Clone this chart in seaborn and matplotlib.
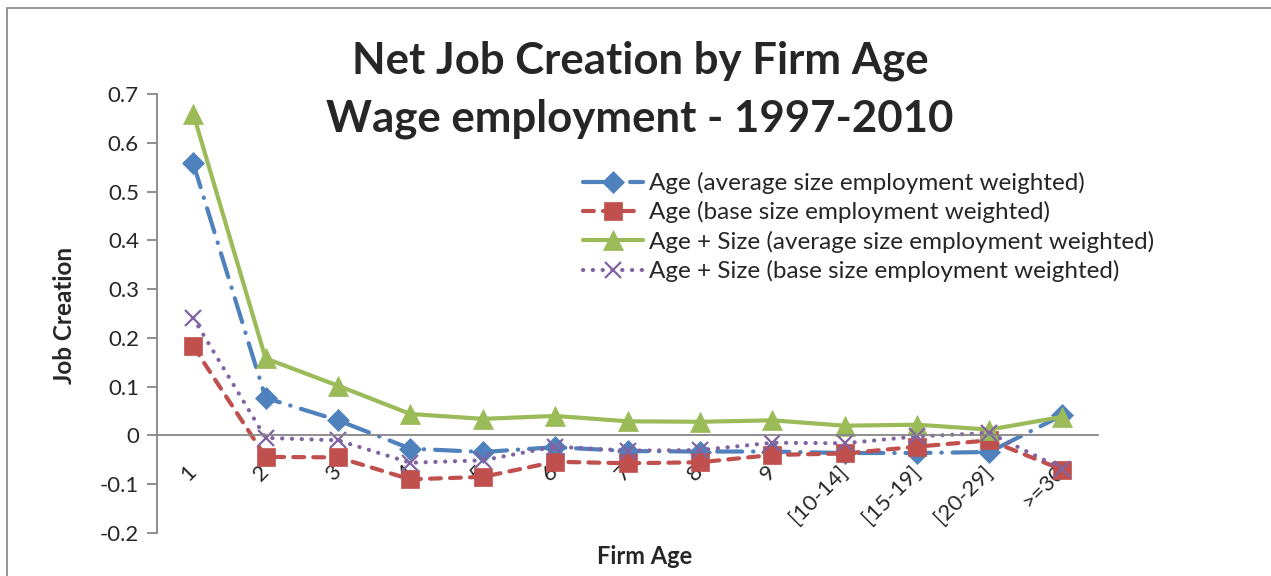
import matplotlib
matplotlib.use("Agg")
import matplotlib.pyplot as plt
import matplotlib.patches as mpatches
import seaborn as sns
import pandas as pd

# Firm-age categories and net job creation for the four weighting schemes
firm_age = ["1", "2", "3", "4", "5", "6", "7", "8", "9",
            "[10-14]", "[15-19]", "[20-29]", ">=30"]
age_avg = [0.558, 0.077, 0.031, -0.027, -0.034, -0.024, -0.032, -0.033,
           -0.033, -0.036, -0.036, -0.034, 0.041]
age_base = [0.183, -0.044, -0.045, -0.090, -0.085, -0.054, -0.057, -0.055,
            -0.040, -0.037, -0.023, -0.010, -0.070]
agesize_avg = [0.660, 0.158, 0.102, 0.044, 0.034, 0.040, 0.029, 0.028,
               0.031, 0.020, 0.022, 0.012, 0.038]
agesize_base = [0.241, -0.005, -0.010, -0.056, -0.051, -0.023, -0.031, -0.030,
                -0.015, -0.016, -0.002, 0.005, -0.068]

series_names = [
    "Age (average size employment weighted)",
    "Age (base size employment weighted)",
    "Age + Size (average size employment weighted)",
    "Age + Size (base size employment weighted)",
]
series_values = [age_avg, age_base, agesize_avg, agesize_base]

colors = ["#4F81BD", "#C0504D", "#9BBB59", "#8064A2"]
marker_list = ["D", "s", "^", "x"]
marker_sizes = [11, 13, 14, 12]
dash_list = [(6.0, 2.6, 0.1, 2.6), (2.6, 2.2), None, (0.05, 2.3)]

sns.set_style("white")
plt.rcParams["font.family"] = ["Lato", "DejaVu Sans"]
plt.rcParams["lines.dash_capstyle"] = "round"

W, H = 1271, 576
fig = plt.figure(figsize=(W / 100, H / 100), dpi=100)
ax = fig.add_axes([157 / W, 1 - 533 / H, (1098 - 157) / W, (533 - 94) / H])

handles = []
for name, vals, c, m, ms, d in zip(series_names, series_values, colors,
                                    marker_list, marker_sizes, dash_list):
    df = pd.DataFrame({"pos": range(len(firm_age)), "value": vals})
    kw = dict(color=c, marker=m, markersize=ms, markeredgecolor=c,
              markerfacecolor=c, markeredgewidth=1.6 if m == "x" else 0.5,
              linewidth=3.0, solid_capstyle="round", dash_capstyle="round")
    if d is not None:
        kw["dashes"] = d
    n_before = len(ax.get_lines())
    sns.lineplot(data=df, x="pos", y="value", ax=ax, legend=False, **kw)
    line = ax.get_lines()[n_before]
    line.set_label(name)
    handles.append(line)

# category axis crosses the value axis at zero
for s in ["top", "right"]:
    ax.spines[s].set_visible(False)
ax.spines["bottom"].set_position(("data", 0))
ax.spines["bottom"].set_color("#868686")
ax.spines["bottom"].set_linewidth(1.3)
ax.spines["left"].set_color("#868686")
ax.spines["left"].set_linewidth(1.3)

ax.set_xlim(-0.5, len(firm_age) - 0.5)
ax.set_ylim(-0.2, 0.7)
ax.set_yticks([-0.2, -0.1, 0, 0.1, 0.2, 0.3, 0.4, 0.5, 0.6, 0.7])
ax.set_yticklabels(["-0.2", "-0.1", "0", "0.1", "0.2", "0.3", "0.4",
                    "0.5", "0.6", "0.7"])
ax.set_xticks(range(len(firm_age)))
ax.set_xticklabels(firm_age)
ax.tick_params(axis="y", direction="out", length=7, width=1.3,
               color="#868686", labelsize=16, pad=6, left=True)
ax.tick_params(axis="x", length=0, labelsize=16, pad=24)
for lab in ax.get_xticklabels():
    lab.set_rotation(45)
    lab.set_rotation_mode("anchor")
    lab.set_ha("right")
    lab.set_va("center")
ax.set_xlabel("")
ax.set_ylabel("")

fig.text(65 / W, 1 - 315 / H, "Job Creation", rotation=90, ha="center",
         va="center", fontsize=17.5, fontweight="bold")
fig.text(645 / W, 1 - 557 / H, "Firm Age", ha="center", va="center",
         fontsize=17, fontweight="bold")
fig.text(640 / W, 1 - 61 / H, "Net Job Creation by Firm Age", ha="center",
         va="center", fontsize=31.5, fontweight="bold")
fig.text(640 / W, 1 - 119 / H, "Wage employment - 1997-2010", ha="center",
         va="center", fontsize=31.5, fontweight="bold")

leg = ax.legend(handles=handles, labels=series_names,
                loc="upper left", bbox_to_anchor=(583 / W, 1 - 172 / H),
                bbox_transform=fig.transFigure, frameon=False,
                fontsize=17.5, handlelength=2.45, handletextpad=0.25,
                labelspacing=0.3, borderaxespad=0, borderpad=0)

# chart-area frame
fig.patches.append(mpatches.Rectangle((7 / W, -0.05), 1.2, 1 - 8 / H + 0.05,
                                      transform=fig.transFigure, fill=False,
                                      edgecolor="#8c8c8c", linewidth=1.3))

fig.savefig("out.png", dpi=100)
